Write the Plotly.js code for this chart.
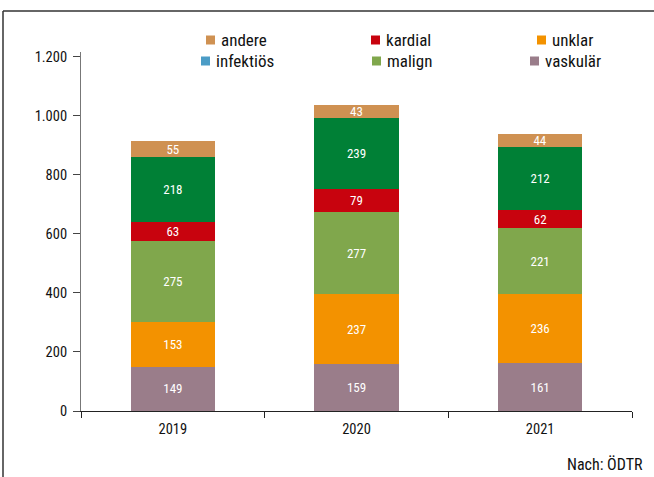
<!DOCTYPE html>
<html>
<head>
<meta charset="utf-8">
<script src="https://cdn.plot.ly/plotly-3.0.1.min.js"></script>
<style>html,body{margin:0;padding:0;background:#fff;}#chart{width:654px;height:477px;}</style>
</head>
<body>
<div id="chart"></div>
<script>
// ---- data ----
var years = ['2019', '2020', '2021'];
var vaskulaer = [149, 159, 161];
var unklar = [153, 237, 236];
var malign = [275, 277, 221];
var kardial = [63, 79, 62];
var infektioes = [218, 239, 212];
var andere = [55, 43, 44];
var yTickVals = [0, 200, 400, 600, 800, 1000, 1200];
var sourceNote = 'Nach: ÖDTR';

// stack order bottom -> top
var series = [
  {name: 'vaskulär', y: vaskulaer, color: '#9a7d8a'},
  {name: 'unklar', y: unklar, color: '#f39200'},
  {name: 'malign', y: malign, color: '#80a74c'},
  {name: 'kardial', y: kardial, color: '#c8030e'},
  {name: 'infektiös', y: infektioes, color: '#008036'},
  {name: 'andere', y: andere, color: '#cf9152'}
];

var FONT = '"Roboto Condensed", "Liberation Sans Narrow", "Arial Narrow", Roboto, sans-serif';

var traces = series.map(function (s) {
  return {
    type: 'bar',
    name: s.name,
    x: years,
    y: s.y,
    marker: {color: s.color, line: {width: 0}},
    text: s.y.map(String),
    texttemplate: '%{text}',
    textposition: 'inside',
    insidetextanchor: 'middle',
    textangle: 0,
    constraintext: 'none',
    textfont: {family: FONT, size: 13, color: '#ffffff'},
    hoverinfo: 'x+y+name',
    showlegend: false
  };
});

// manual legend (layout), in reference order
var legendItems = [
  {name: 'andere', color: '#cf9152'},
  {name: 'kardial', color: '#c8030e'},
  {name: 'unklar', color: '#f39200'},
  {name: 'infektiös', color: '#4b9cc6'},
  {name: 'malign', color: '#80a74c'},
  {name: 'vaskulär', color: '#9a7d8a'}
];
var plotL = 81, plotR = 632, plotT = 52, plotB = 411, W = 654, H = 477;
function px(x) { return (x - plotL) / (plotR - plotL); }
function py(y) { return (plotB - y) / (plotB - plotT); }
var swatchX = [206, 371, 537, 201, 372, 530];
var rowY = [40, 61];

var shapes = [];
var annotations = [];
legendItems.forEach(function (it, i) {
  var row = Math.floor(i / 3);
  var x0 = swatchX[i];
  var yc = rowY[row];
  shapes.push({type: 'rect', xref: 'paper', yref: 'paper',
    x0: px(x0), x1: px(x0 + 9), y0: py(yc + 4.5), y1: py(yc - 4.5),
    fillcolor: it.color, line: {width: 0}});
  annotations.push({xref: 'paper', yref: 'paper', x: px(x0 + 13), y: py(yc),
    xanchor: 'left', yanchor: 'middle', showarrow: false, text: it.name,
    font: {family: FONT, size: 17, color: '#111'}});
});
// frame lines (top and left)
shapes.push({type: 'line', xref: 'paper', yref: 'paper', x0: px(3), x1: px(W + 2), y0: py(11), y1: py(11), line: {color: '#333', width: 1.5}});
shapes.push({type: 'line', xref: 'paper', yref: 'paper', x0: px(3), x1: px(3), y0: py(11), y1: py(H + 2), line: {color: '#333', width: 1.5}});
annotations.push({xref: 'paper', yref: 'paper', x: px(645), y: py(464), xanchor: 'right', yanchor: 'middle',
  showarrow: false, text: sourceNote, font: {family: FONT, size: 16, color: '#111'}});

var layout = {
  width: W, height: H,
  margin: {l: plotL, r: W - plotR, t: plotT, b: H - plotB, pad: 0},
  paper_bgcolor: '#fff', plot_bgcolor: '#fff',
  separators: ',.',
  barmode: 'stack',
  bargap: 0.54,
  showlegend: false,
  font: {family: FONT, size: 14, color: '#111'},
  uniformtext: {mode: 'show', minsize: 13},
  xaxis: {
    type: 'category', showgrid: false, zeroline: false,
    showline: true, linecolor: '#222', linewidth: 1,
    ticks: 'outside', tickson: 'boundaries', ticklen: 6, tickcolor: '#222', tickwidth: 1,
    ticklabelstandoff: 5,
    tickfont: {family: FONT, size: 14.5, color: '#111'},
    fixedrange: true
  },
  yaxis: {
    range: [0, 1215], showgrid: false, zeroline: false,
    showline: true, linecolor: '#777', linewidth: 1,
    ticks: 'outside', ticklen: 7, tickcolor: '#444', tickwidth: 1,
    ticklabelstandoff: 3,
    tickvals: yTickVals, tickformat: ',d',
    tickfont: {family: FONT, size: 14.5, color: '#111'},
    fixedrange: true
  },
  shapes: shapes,
  annotations: annotations
};

Plotly.newPlot('chart', traces, layout, {displayModeBar: false, staticPlot: true});
</script>
</body>
</html>
